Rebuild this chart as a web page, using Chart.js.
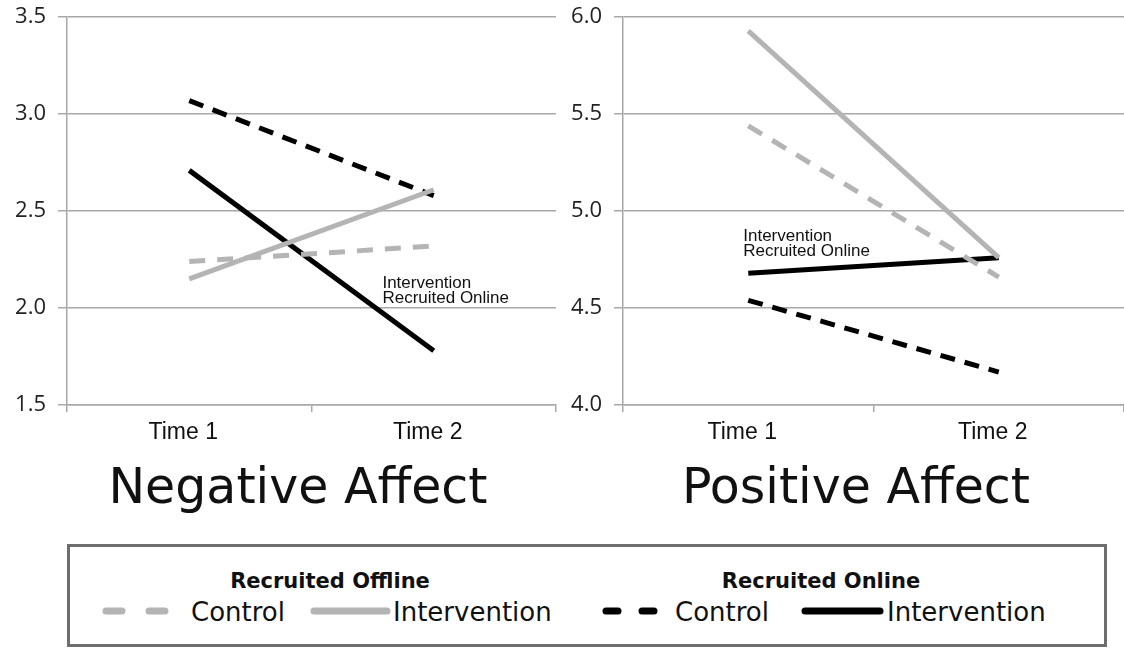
<!DOCTYPE html>
<html>
<head>
    <title>Negative and Positive Affect</title>
    <script src="https://cdn.jsdelivr.net/npm/chart.js"></script>
    <style>
        body { margin: 0; background: #fff; width: 1124px; height: 648px; position: relative; overflow: hidden; }
        .box { position: absolute; }
        .title { position: absolute; font-family: "DejaVu Sans"; font-size: 49px; color: #111; transform: translateX(-50%); line-height: 49px; white-space: nowrap; }
        .lg { position: absolute; font-family: "DejaVu Sans"; font-size: 26px; color: #111; line-height: 30px; white-space: nowrap; }
        .lgHead { position: absolute; font-family: "DejaVu Sans"; font-weight: bold; font-size: 21px; color: #111; transform: translateX(-50%); line-height: 24px; white-space: nowrap; }
        #legendBox { position: absolute; left: 67px; top: 544px; width: 1040px; height: 103px; border: 3px solid #6e6e6e; box-sizing: border-box; }
    </style>
</head>
<body>
    <div class="box" style="left:0;top:-8px;width:560px;height:458px;"><canvas id="negChart"></canvas></div>
    <div class="box" style="left:560px;top:-8px;width:564px;height:458px;"><canvas id="posChart"></canvas></div>

    <div class="title" style="left:298px;top:462px;">Negative Affect</div>
    <div class="title" style="left:856px;top:462px;">Positive Affect</div>

    <div id="legendBox"></div>
    <div class="lgHead" style="left:330px;top:569px;">Recruited Offline</div>
    <div class="lgHead" style="left:821px;top:569px;">Recruited Online</div>
    <svg style="position:absolute;left:100px;top:601px;" width="86" height="20"><line x1="6" y1="10" x2="80" y2="10" stroke="#b4b4b4" stroke-width="7" stroke-linecap="round" stroke-dasharray="16 27"/></svg>
    <div class="lg" style="left:191px;top:597px;">Control</div>
    <svg style="position:absolute;left:309px;top:601px;" width="84" height="20"><line x1="5" y1="10" x2="78" y2="10" stroke="#b4b4b4" stroke-width="7" stroke-linecap="round"/></svg>
    <div class="lg" style="left:393px;top:597px;">Intervention</div>
    <svg style="position:absolute;left:600px;top:601px;" width="76" height="20"><line x1="6" y1="10" x2="72" y2="10" stroke="#000" stroke-width="7" stroke-linecap="round" stroke-dasharray="12 24"/></svg>
    <div class="lg" style="left:675px;top:597px;">Control</div>
    <svg style="position:absolute;left:800px;top:601px;" width="86" height="20"><line x1="5" y1="10" x2="80" y2="10" stroke="#000" stroke-width="7" stroke-linecap="round"/></svg>
    <div class="lg" style="left:887px;top:597px;">Intervention</div>

    <script>
        // categories
        const timeLabels = ['Time 1', 'Time 2'];

        // Negative Affect
        const negOfflineControl = [2.24, 2.32];
        const negOfflineIntervention = [2.15, 2.61];
        const negOnlineControl = [3.07, 2.58];
        const negOnlineIntervention = [2.71, 1.78];
        const negRange = [1.5, 3.5];

        // Positive Affect
        const posOfflineControl = [5.44, 4.66];
        const posOfflineIntervention = [5.93, 4.76];
        const posOnlineControl = [4.54, 4.17];
        const posOnlineIntervention = [4.68, 4.76];
        const posRange = [4.0, 6.0];

        const noteLines = ['Intervention', 'Recruited Online'];

        const GRAY = '#b4b4b4';
        const GRID = '#a8a8a8';

        // writes the "Intervention / Recruited Online" note at a data position
        const notePlugin = {
            id: 'noteText',
            afterDatasetsDraw(chart, args, opts) {
                const ctx = chart.ctx;
                const px = chart.scales.x.getPixelForValue(opts.at[0]);
                const py = chart.scales.y.getPixelForValue(opts.at[1]);
                ctx.save();
                ctx.font = '17px "Liberation Sans"';
                ctx.fillStyle = '#111';
                ctx.textAlign = 'left';
                ctx.textBaseline = 'middle';
                opts.lines.forEach((t, i) => ctx.fillText(t, px, py + i * 15));
                ctx.restore();
            }
        };

        function makeSets(offC, offI, onC, onI) {
            const base = { fill: false, pointRadius: 0, borderWidth: 5, tension: 0, borderCapStyle: 'butt' };
            return [
                Object.assign({ label: 'Offline Control', data: offC, borderColor: GRAY, borderDash: [16, 12] }, base),
                Object.assign({ label: 'Offline Intervention', data: offI, borderColor: GRAY }, base),
                Object.assign({ label: 'Online Control', data: onC, borderColor: '#000', borderDash: [15, 10] }, base),
                Object.assign({ label: 'Online Intervention', data: onI, borderColor: '#000' }, base)
            ];
        }

        function makeChart(id, sets, range, yWidth, padRight, note) {
            return new Chart(document.getElementById(id), {
                type: 'line',
                data: { labels: timeLabels, datasets: sets },
                options: {
                    responsive: true,
                    maintainAspectRatio: false,
                    animation: false,
                    layout: { padding: { top: 8, right: padRight, bottom: 0, left: 0 } },
                    plugins: {
                        legend: { display: false },
                        tooltip: { enabled: false },
                        noteText: note
                    },
                    scales: {
                        x: {
                            offset: true,
                            grid: { offset: true, drawOnChartArea: false, color: GRID, lineWidth: 1.5, tickLength: 7 },
                            border: { color: GRID, width: 1.5 },
                            ticks: { font: { family: 'Liberation Sans', size: 23 }, color: '#111', padding: 7, maxRotation: 0, labelOffset: -6 },
                            afterFit(s) { s.height = 45; }
                        },
                        y: {
                            min: range[0],
                            max: range[1],
                            grid: { color: GRID, lineWidth: 1.5, tickLength: 9 },
                            border: { color: GRID, width: 1.5 },
                            ticks: {
                                stepSize: 0.5,
                                padding: 12,
                                color: '#222',
                                font: { family: 'Open Sans', size: 22 },
                                callback: v => v.toFixed(1)
                            },
                            afterFit(s) { s.width = yWidth; }
                        }
                    }
                },
                plugins: [notePlugin]
            });
        }

        makeChart('negChart',
            makeSets(negOfflineControl, negOfflineIntervention, negOnlineControl, negOnlineIntervention),
            negRange, 67, 4, { at: [0.79, 2.13], lines: noteLines });

        makeChart('posChart',
            makeSets(posOfflineControl, posOfflineIntervention, posOnlineControl, posOnlineIntervention),
            posRange, 63, 0, { at: [-0.02, 4.87], lines: noteLines });
    </script>
</body>
</html>
